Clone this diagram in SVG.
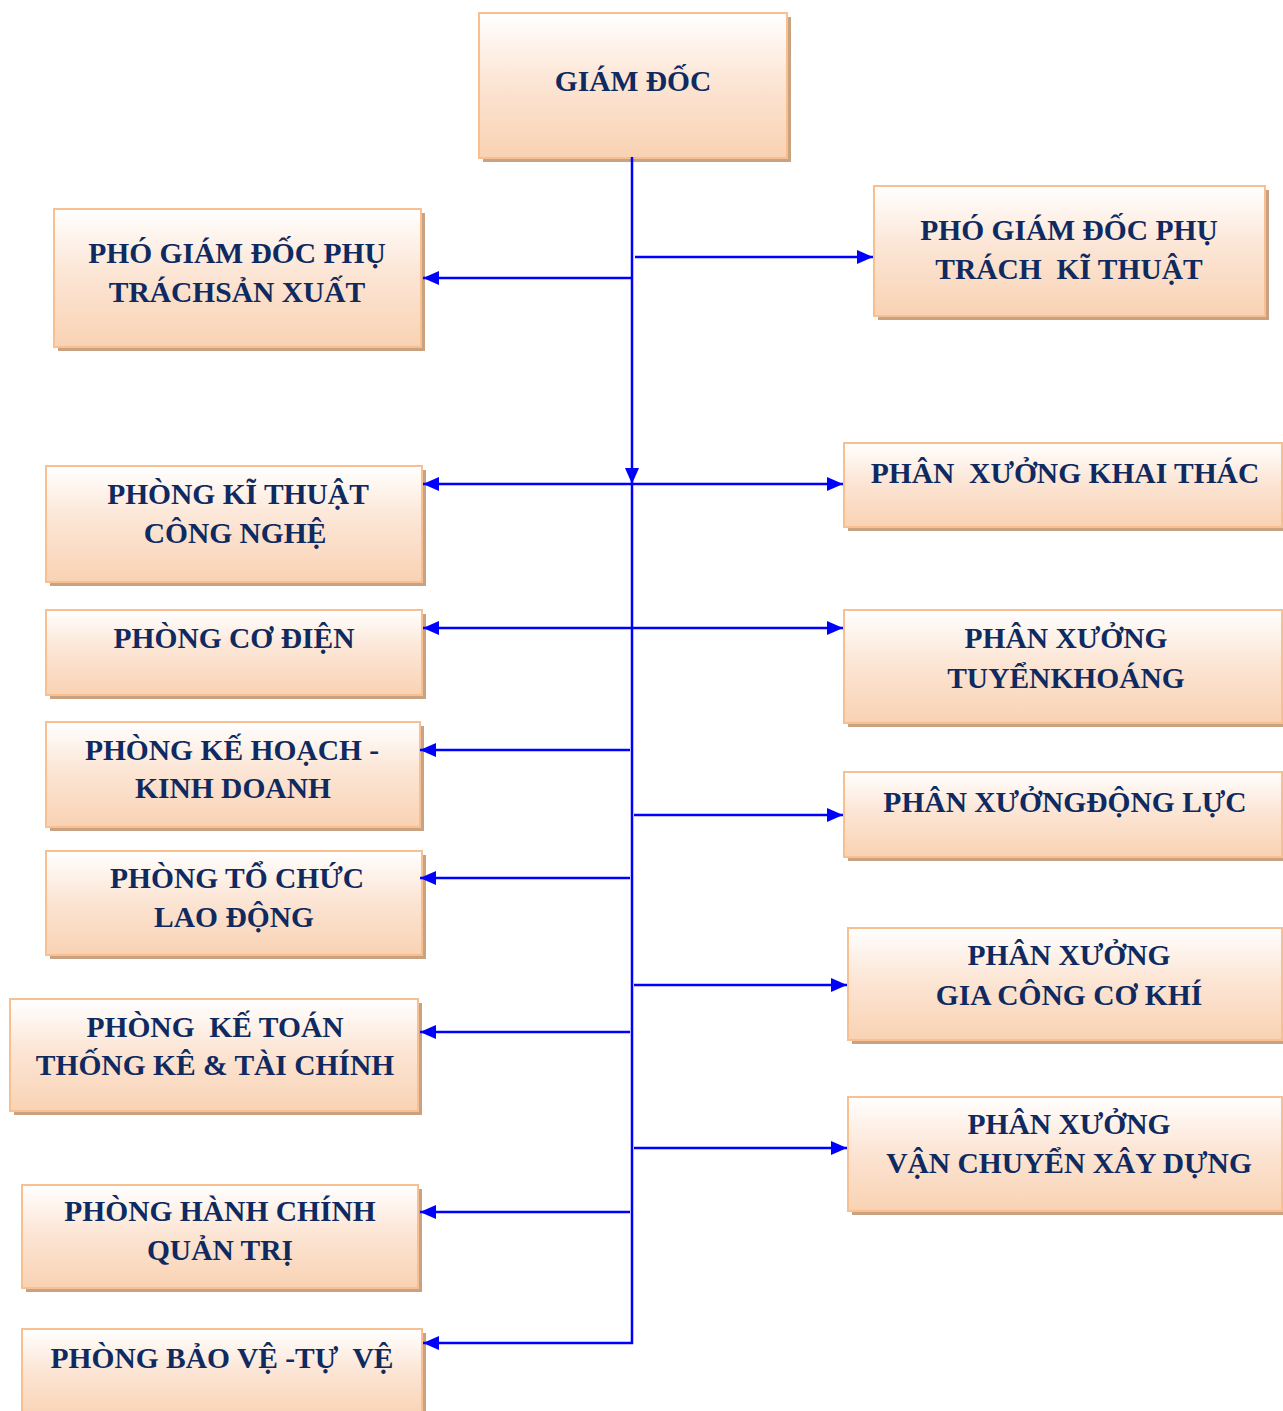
<svg xmlns="http://www.w3.org/2000/svg" width="1283" height="1411" viewBox="0 0 1283 1411">
<style>
.box{fill:url(#g);stroke:#F8BF90;stroke-width:2}
.sh{fill:#C9A282}
.t{font-family:"Liberation Serif","Times New Roman",serif;font-weight:bold;font-size:29.5px;fill:#0E2A60;text-anchor:middle;white-space:pre}
.c{stroke:#0000FF;stroke-width:2.5;fill:none}
</style>
<defs>
<linearGradient id="g" x1="0" y1="0" x2="0" y2="1">
<stop offset="0" stop-color="#FFFFFF"/>
<stop offset="0.45" stop-color="#FCE6D6"/>
<stop offset="1" stop-color="#F9D2B3"/>
</linearGradient>
<marker id="a" viewBox="0 0 16 14" refX="16" refY="7" markerWidth="16" markerHeight="14" markerUnits="userSpaceOnUse" orient="auto-start-reverse">
<path d="M0,0 L16,7 L0,14 Z" fill="#0000FF"/>
</marker>
</defs>

<g id="n-giamdoc"><rect class="sh" x="483" y="17" width="308" height="145"/><rect class="box" x="479" y="13" width="308" height="145"/><text class="t" x="633" y="91">GIÁM ĐỐC</text></g>
<g id="n-pgd-sx"><rect class="sh" x="58" y="213" width="367" height="138"/><rect class="box" x="54" y="209" width="367" height="138"/><text class="t" x="237" y="263">PHÓ GIÁM ĐỐC PHỤ</text><text class="t" x="237" y="302">TRÁCHSẢN XUẤT</text></g>
<g id="n-pgd-kt"><rect class="sh" x="878" y="190" width="391" height="130"/><rect class="box" x="874" y="186" width="391" height="130"/><text class="t" x="1069" y="240">PHÓ GIÁM ĐỐC PHỤ</text><text class="t" x="1069" y="279" xml:space="preserve">TRÁCH  KĨ THUẬT</text></g>
<g id="n-p-ktcn"><rect class="sh" x="50" y="470" width="376" height="116"/><rect class="box" x="46" y="466" width="376" height="116"/><text class="t" x="238" y="504">PHÒNG KĨ THUẬT</text><text class="t" x="235" y="543">CÔNG NGHỆ</text></g>
<g id="n-px-kt"><rect class="sh" x="848" y="447" width="439" height="84"/><rect class="box" x="844" y="443" width="438" height="84"/><text class="t" x="1065" y="483" xml:space="preserve">PHÂN  XƯỞNG KHAI THÁC</text></g>
<g id="n-p-cd"><rect class="sh" x="50" y="614" width="376" height="85"/><rect class="box" x="46" y="610" width="376" height="85"/><text class="t" x="234" y="648">PHÒNG CƠ ĐIỆN</text></g>
<g id="n-px-tk"><rect class="sh" x="848" y="614" width="439" height="113"/><rect class="box" x="844" y="610" width="438" height="113"/><text class="t" x="1066" y="648">PHÂN XƯỞNG</text><text class="t" x="1066" y="688">TUYỂNKHOÁNG</text></g>
<g id="n-p-khkd"><rect class="sh" x="50" y="726" width="374" height="105"/><rect class="box" x="46" y="722" width="374" height="105"/><text class="t" x="232" y="760">PHÒNG KẾ HOẠCH -</text><text class="t" x="233" y="798">KINH DOANH</text></g>
<g id="n-px-dl"><rect class="sh" x="848" y="776" width="439" height="85"/><rect class="box" x="844" y="772" width="438" height="85"/><text class="t" x="1065" y="812">PHÂN XƯỞNGĐỘNG LỰC</text></g>
<g id="n-p-tcld"><rect class="sh" x="50" y="855" width="376" height="104"/><rect class="box" x="46" y="851" width="376" height="104"/><text class="t" x="237" y="888">PHÒNG TỔ CHỨC</text><text class="t" x="234" y="927">LAO ĐỘNG</text></g>
<g id="n-px-gc"><rect class="sh" x="852" y="932" width="435" height="112"/><rect class="box" x="848" y="928" width="434" height="112"/><text class="t" x="1069" y="965">PHÂN XƯỞNG</text><text class="t" x="1069" y="1005">GIA CÔNG CƠ KHÍ</text></g>
<g id="n-p-kttk"><rect class="sh" x="14" y="1003" width="408" height="112"/><rect class="box" x="10" y="999" width="408" height="112"/><text class="t" x="215" y="1037" xml:space="preserve">PHÒNG  KẾ TOÁN</text><text class="t" x="215" y="1075">THỐNG KÊ &amp; TÀI CHÍNH</text></g>
<g id="n-px-vc"><rect class="sh" x="852" y="1101" width="435" height="114"/><rect class="box" x="848" y="1097" width="434" height="114"/><text class="t" x="1069" y="1134">PHÂN XƯỞNG</text><text class="t" x="1069" y="1173">VẬN CHUYỂN XÂY DỰNG</text></g>
<g id="n-p-hcqt"><rect class="sh" x="26" y="1189" width="396" height="103"/><rect class="box" x="22" y="1185" width="396" height="103"/><text class="t" x="220" y="1221">PHÒNG HÀNH CHÍNH</text><text class="t" x="220" y="1260">QUẢN TRỊ</text></g>
<g id="n-p-bvtv"><rect class="sh" x="26" y="1333" width="400" height="90"/><rect class="box" x="22" y="1329" width="400" height="90"/><text class="t" x="222" y="1368" xml:space="preserve">PHÒNG BẢO VỆ -TỰ  VỆ</text></g>

<g id="connectors">
<line class="c" x1="632" y1="157" x2="632" y2="484" marker-end="url(#a)"/>
<line class="c" x1="632" y1="484" x2="632" y2="1344"/>
<line class="c" x1="633" y1="278" x2="423" y2="278" marker-end="url(#a)"/>
<line class="c" x1="635" y1="257" x2="873" y2="257" marker-end="url(#a)"/>
<line class="c" x1="423" y1="484" x2="843" y2="484" marker-start="url(#a)" marker-end="url(#a)"/>
<line class="c" x1="423" y1="628" x2="843" y2="628" marker-start="url(#a)" marker-end="url(#a)"/>
<line class="c" x1="630" y1="750" x2="420" y2="750" marker-end="url(#a)"/>
<line class="c" x1="634" y1="815" x2="843" y2="815" marker-end="url(#a)"/>
<line class="c" x1="630" y1="878" x2="420" y2="878" marker-end="url(#a)"/>
<line class="c" x1="634" y1="985" x2="847" y2="985" marker-end="url(#a)"/>
<line class="c" x1="630" y1="1032" x2="420" y2="1032" marker-end="url(#a)"/>
<line class="c" x1="634" y1="1148" x2="847" y2="1148" marker-end="url(#a)"/>
<line class="c" x1="630" y1="1212" x2="420" y2="1212" marker-end="url(#a)"/>
<line class="c" x1="633" y1="1343" x2="423" y2="1343" marker-end="url(#a)"/>
</g>
</svg>
